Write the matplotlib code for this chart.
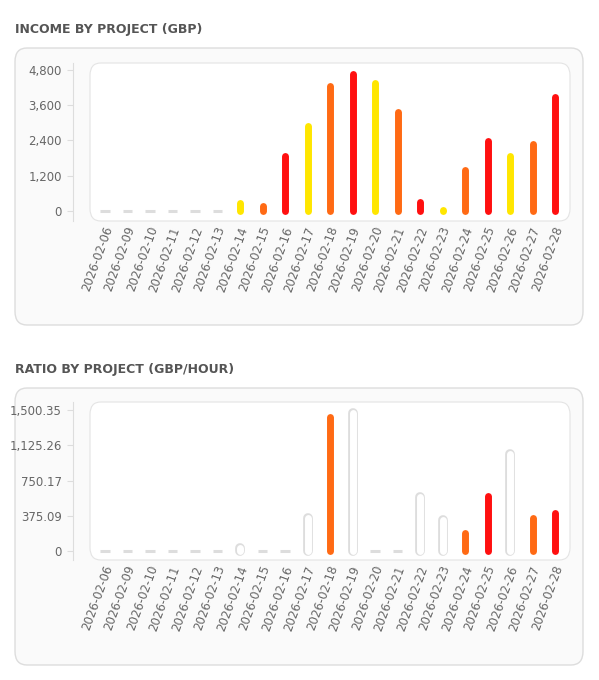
import numpy as np
import matplotlib
matplotlib.use("Agg")
import matplotlib.pyplot as plt
from matplotlib.patches import FancyBboxPatch

# =============================================================================
# DATA
# =============================================================================

dates = ["2026-02-06", "2026-02-09", "2026-02-10", "2026-02-11", "2026-02-12",
         "2026-02-13", "2026-02-14", "2026-02-15", "2026-02-16", "2026-02-17",
         "2026-02-18", "2026-02-19", "2026-02-20", "2026-02-21", "2026-02-22",
         "2026-02-23", "2026-02-24", "2026-02-25", "2026-02-26", "2026-02-27",
         "2026-02-28"]

income = [0, 0, 0, 0, 0, 0, 260, 170, 1860, 2900, 4260, 4650, 4350, 3365,
          316, 40, 1400, 2380, 1875, 2280, 3870]
income_colors = ["#dddddd"] * 6 + ["#ffe600", "#ff6a14", "#ff1010"] * 5

ratio = [0, 0, 0, 0, 0, 0, 35, 0, 0, 353, 1423, 1465, 0, 0, 575, 328, 194,
         590, 1031, 346, 406]
ratio_colors = ["w", "w", "w", "w", "w", "w", "w", "w", "w", "w", "#ff6a14",
                "w", "w", "w", "w", "w", "#ff6a14", "#ff1010", "w", "#ff6a14",
                "#ff1010"]

income_ticks = [0, 1200, 2400, 3600, 4800]
income_ticklabels = ["0", "1,200", "2,400", "3,600", "4,800"]
ratio_ticks = [0, 375.09, 750.17, 1125.26, 1500.35]
ratio_ticklabels = ["0", "375.09", "750.17", "1,125.26", "1,500.35"]

W, H = 599, 680
fig = plt.figure(figsize=(W / 100, H / 100), dpi=100)
fig.patch.set_facecolor("white")


def px(x, y):
    return x / W, 1 - y / H


def panel(title, y_title, card_top, plot_top, zero_y, top_y, values, colors,
          ticks, ticklabels):
    # title
    fig.text(*px(15, y_title), title, fontsize=9, fontweight="bold",
             color="#555555", va="center", ha="left")
    # card
    x0, y0 = px(15, card_top + 277)
    card = FancyBboxPatch((x0, y0), 568 / W, 277 / H,
                          boxstyle="round,pad=0,rounding_size=0.02",
                          transform=fig.transFigure, facecolor="#fafafa",
                          edgecolor="#dddddd", lw=1)
    fig.patches.append(card)
    # inner plot box
    bx, by = px(90, plot_top + 158)
    inner = FancyBboxPatch((bx, by), 480 / W, 158 / H,
                           boxstyle="round,pad=0,rounding_size=0.018",
                           transform=fig.transFigure, facecolor="white",
                           edgecolor="#e4e4e4", lw=0.8)
    fig.patches.append(inner)

    plot_bottom = plot_top + 158
    l, b = px(73, plot_bottom)
    ax = fig.add_axes([l, b, (570 - 73) / W, 158 / H])
    ax.set_zorder(5)
    ax.set_facecolor("none")
    per_px = ticks[-1] / (zero_y - top_y)
    ax.set_ylim(-(plot_bottom - zero_y) * per_px,
                ticks[-1] + (top_y - plot_top) * per_px)
    step = 22.5
    ax.set_xlim(-(105 - 73) / step, 20 + (570 - 555) / step)

    lw = 5.0
    for i, (v, c) in enumerate(zip(values, colors)):
        if v == 0:
            ax.plot([i - 0.22, i + 0.22], [0, 0], color="#dddddd", lw=2.2,
                    solid_capstyle="butt")
        elif c == "w":
            ax.plot([i, i], [0, v], color="#dddddd", lw=lw + 2,
                    solid_capstyle="round")
            ax.plot([i, i], [0, v], color="white", lw=lw,
                    solid_capstyle="round")
        else:
            ax.plot([i, i], [0, v], color=c, lw=lw, solid_capstyle="round")

    for s in ["top", "right", "bottom"]:
        ax.spines[s].set_visible(False)
    ax.spines["left"].set_color("#dddddd")
    ax.set_yticks(ticks)
    ax.set_yticklabels(ticklabels)
    ax.tick_params(axis="y", colors="#dddddd", labelcolor="#666666",
                   labelsize=8.5, length=4, pad=4)
    ax.set_xticks([])
    for i, d in enumerate(dates):
        tx = 105 + i * step
        fig.text(*px(tx + 4, plot_bottom + 6), d, rotation=70, ha="right",
                 va="center", rotation_mode="anchor", fontsize=8.5,
                 color="#666666")
    return ax


panel("INCOME BY PROJECT (GBP)", 30, 48, 63, 211, 70, income, income_colors,
      income_ticks, income_ticklabels)
panel("RATIO BY PROJECT (GBP/HOUR)", 369, 388, 402, 551, 410, ratio,
      ratio_colors, ratio_ticks, ratio_ticklabels)

fig.savefig("out.png", dpi=100, facecolor="white")
